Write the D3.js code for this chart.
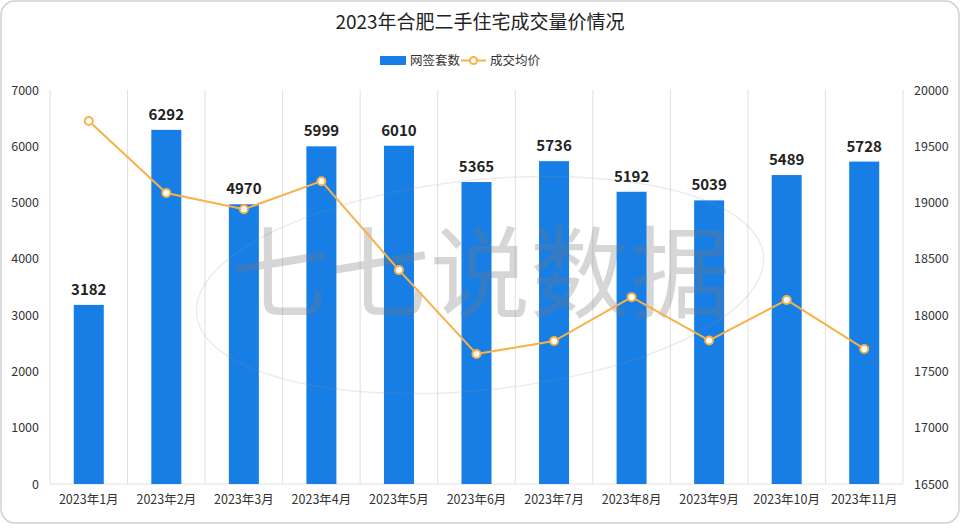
<!DOCTYPE html>
<html>
<head>
<meta charset="utf-8">
<script src="https://cdn.jsdelivr.net/npm/d3@7"></script>
<style>
  body { margin: 0; background: #fff; }
  svg { display: block; font-family: "Noto Sans CJK SC", "Noto Sans", sans-serif; }
</style>
</head>
<body>
<div id="chart"></div>
<script>
let months = ["2023年1月", "2023年2月", "2023年3月", "2023年4月", "2023年5月", "2023年6月",
    "2023年7月", "2023年8月", "2023年9月", "2023年10月", "2023年11月"];
let deals = [3182, 6292, 4970, 5999, 6010, 5365, 5736, 5192, 5039, 5489, 5728];
let prices = [19725, 19085, 18940, 19190, 18400, 17655, 17770, 18160, 17775, 18135, 17700];
let leftTicks = [0, 1000, 2000, 3000, 4000, 5000, 6000, 7000];
let rightTicks = [16500, 17000, 17500, 18000, 18500, 19000, 19500, 20000];

let width = 960;
let height = 530;
let margin = ({ top: 90, right: 57, bottom: 46, left: 50 });
let barColor = "#177ee6";
let lineColor = "#f8b048";

const svg = d3.select("#chart").append("svg")
    .attr("width", width)
    .attr("height", height);

// frame
svg.append("rect")
    .attr("x", 1).attr("y", 1)
    .attr("width", width - 2).attr("height", height - 8)
    .attr("rx", 14)
    .attr("fill", "#fff")
    .attr("stroke", "#d0d0d0")
    .attr("stroke-width", 1.5);

let x = d3.scaleBand()
    .domain(months)
    .range([margin.left, width - margin.right]);
let yLeft = d3.scaleLinear()
    .domain([0, 7000])
    .range([height - margin.bottom, margin.top]);
let yRight = d3.scaleLinear()
    .domain([16500, 20000])
    .range([height - margin.bottom, margin.top]);

// title
svg.append("text")
    .attr("x", width / 2).attr("y", 29)
    .attr("text-anchor", "middle")
    .attr("font-size", 19)
    .attr("fill", "#222")
    .text("2023年合肥二手住宅成交量价情况");

// legend
let legend = svg.append("g").attr("font-size", 12.5).attr("fill", "#333");
legend.append("rect").attr("x", 380).attr("y", 56).attr("width", 26).attr("height", 9).attr("fill", barColor);
legend.append("text").attr("x", 410).attr("y", 65).text("网签套数");
legend.append("line").attr("x1", 461).attr("x2", 486).attr("y1", 60.5).attr("y2", 60.5)
    .attr("stroke", lineColor).attr("stroke-width", 2);
legend.append("circle").attr("cx", 473.5).attr("cy", 60.5).attr("r", 3.5)
    .attr("fill", "#fff").attr("stroke", lineColor).attr("stroke-width", 2);
legend.append("text").attr("x", 490).attr("y", 65).text("成交均价");

// vertical grid lines between categories
let bounds = months.map(m => x(m)).concat([x.range()[1]]);
svg.append("g")
    .selectAll("line")
    .data(bounds)
    .join("line")
    .attr("x1", d => d).attr("x2", d => d)
    .attr("y1", margin.top).attr("y2", height - margin.bottom)
    .attr("stroke", "#e0e0e0")
    .attr("stroke-width", 1);

// bottom baseline
svg.append("line")
    .attr("x1", margin.left).attr("x2", width - margin.right)
    .attr("y1", height - margin.bottom).attr("y2", height - margin.bottom)
    .attr("stroke", "#e0e0e0");

// axes
svg.append("g")
    .attr("transform", `translate(${margin.left - 8},0)`)
    .call(d3.axisLeft(yLeft).tickValues(leftTicks).tickSize(0).tickFormat(d3.format("d")))
    .call(g => g.select(".domain").remove())
    .call(g => g.selectAll("text").attr("font-size", 12.5).attr("fill", "#333")
        .attr("font-family", "\"Noto Sans CJK SC\", sans-serif"));

svg.append("g")
    .attr("transform", `translate(${width - margin.right + 8},0)`)
    .call(d3.axisRight(yRight).tickValues(rightTicks).tickSize(0).tickFormat(d3.format("d")))
    .call(g => g.select(".domain").remove())
    .call(g => g.selectAll("text").attr("font-size", 12.5).attr("fill", "#333")
        .attr("font-family", "\"Noto Sans CJK SC\", sans-serif"));

svg.append("g")
    .attr("transform", `translate(0,${height - margin.bottom + 8})`)
    .call(d3.axisBottom(x).tickSize(0))
    .call(g => g.select(".domain").remove())
    .call(g => g.selectAll("text").attr("font-size", 12.5).attr("fill", "#333")
        .attr("font-family", "\"Noto Sans CJK SC\", sans-serif"));

// bars
let barW = 30;
svg.append("g")
    .selectAll("rect")
    .data(deals)
    .join("rect")
    .attr("x", (d, i) => x(months[i]) + x.bandwidth() / 2 - barW / 2)
    .attr("y", d => yLeft(d))
    .attr("width", barW)
    .attr("height", d => yLeft(0) - yLeft(d))
    .attr("fill", barColor);

svg.append("g")
    .selectAll("text")
    .data(deals)
    .join("text")
    .attr("x", (d, i) => x(months[i]) + x.bandwidth() / 2)
    .attr("y", d => yLeft(d) - 10)
    .attr("text-anchor", "middle")
    .attr("font-size", 15)
    .attr("font-weight", "bold")
    .attr("fill", "#222")
    .text(d => d);

// watermark
let wm = svg.append("g").attr("pointer-events", "none");
wm.append("ellipse")
    .attr("cx", 480).attr("cy", 285).attr("rx", 285).attr("ry", 105)
    .attr("transform", "rotate(-6,480,285)")
    .attr("fill", "none").attr("stroke", "rgba(150,150,150,0.18)").attr("stroke-width", 1.5);
wm.append("text")
    .attr("x", 480).attr("y", 310)
    .attr("text-anchor", "middle")
    .attr("font-size", 100)
    .attr("fill", "rgba(120,120,120,0.3)")
    .text("七七说数据");

// price line
let line = d3.line()
    .x((d, i) => x(months[i]) + x.bandwidth() / 2)
    .y(d => yRight(d));
svg.append("path")
    .datum(prices)
    .attr("d", line)
    .attr("fill", "none")
    .attr("stroke", lineColor)
    .attr("stroke-width", 2);
svg.append("g")
    .selectAll("circle")
    .data(prices)
    .join("circle")
    .attr("cx", (d, i) => x(months[i]) + x.bandwidth() / 2)
    .attr("cy", d => yRight(d))
    .attr("r", 4)
    .attr("fill", "#fff")
    .attr("stroke", lineColor)
    .attr("stroke-width", 2);
</script>
</body>
</html>
